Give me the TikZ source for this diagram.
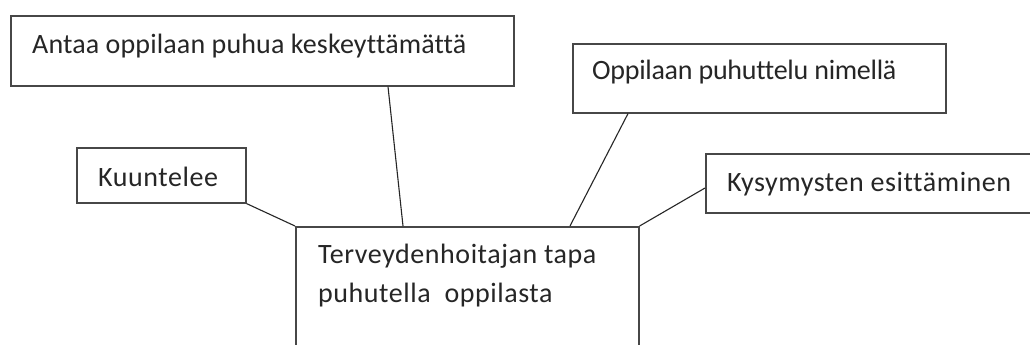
\documentclass[tikz,border=0pt]{standalone}
\usepackage{fontspec}
\setmainfont{Carlito}[Ligatures={NoCommon}]
\usetikzlibrary{calc}
\tikzset{
  box/.style={draw=black!72, line width=1.6pt, rectangle, inner sep=0pt, fill=none},
  lbl/.style={inner sep=0pt, anchor=base west, text=black!85, font=\fontsize{28}{39}\selectfont, align=left},
  link/.style={draw=black!85, line width=1.1pt}
}
\begin{document}
\begin{tikzpicture}[x=1pt,y=-1pt]
\useasboundingbox (0,0) rectangle (1030,345);
\clip (0,0) rectangle (1030,345);
\fill[white] (0,0) rectangle (1030,345);
% boxes
\node[box, minimum width=503pt, minimum height=70pt, anchor=north west] (ant) at (10,15) {};
\node[box, minimum width=373pt, minimum height=69pt, anchor=north west] (opp) at (572,43) {};
\node[box, minimum width=169pt, minimum height=55pt, anchor=north west] (kuu) at (76,147) {};
\node[box, minimum width=360pt, minimum height=59pt, anchor=north west] (kys) at (705,153) {};
\node[box, minimum width=343pt, minimum height=150pt, anchor=north west] (ter) at (295,226) {};
% texts
\node[lbl] (tant) at (32,53) {\addfontfeature{LetterSpace=0.5}Antaa oppilaan puhua keskeyttämättä};
\node[lbl] (topp) at (592,79) {\addfontfeature{LetterSpace=-1}Oppilaan puhuttelu nimellä};
\node[lbl] (tkuu) at (98,186) {\addfontfeature{LetterSpace=2}Kuuntelee};
\node[lbl] (tkys) at (727,191) {\addfontfeature{LetterSpace=2}Kysymysten esittäminen};
\node[lbl, anchor=north west] (tter) at (318,244) {\addfontfeature{LetterSpace=2}Terveydenhoitajan tapa\\\addfontfeature{LetterSpace=2}puhutella\ \ oppilasta};
% connectors
\draw[link] (kuu.south east) -- (ter.north west);
\draw[link] ($(ant.south west)+(378,0)$) -- ($(ter.north west)+(108,0)$);
\draw[link] ($(opp.south west)+(56,0)$) -- ($(ter.north west)+(275,0)$);
\draw[link] (ter.north east) -- ($(kys.north west)+(0,35)$);
\end{tikzpicture}
\end{document}
